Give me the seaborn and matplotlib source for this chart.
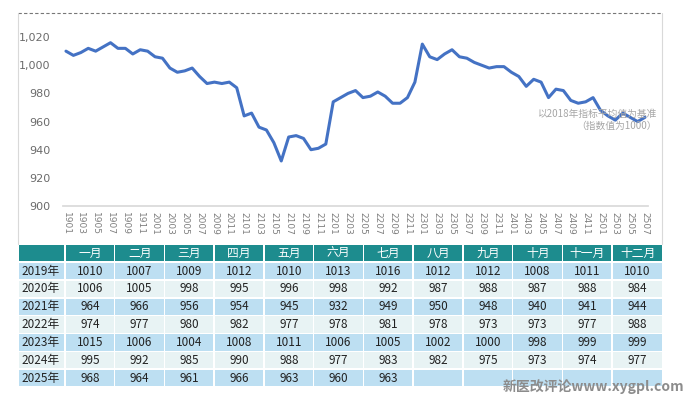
"""
医院指数月度走势（2019-2025），上方折线图 + 下方月度数据表。
保存为 out.png（685x396）。
"""

import matplotlib.pyplot as plt
import numpy as np
import pandas as pd
import seaborn as sns
from matplotlib.lines import Line2D
from matplotlib.patches import Rectangle

YEARS = ["2019年", "2020年", "2021年", "2022年", "2023年", "2024年", "2025年"]
MONTHS = ["一月", "二月", "三月", "四月", "五月", "六月",
          "七月", "八月", "九月", "十月", "十一月", "十二月"]

v2019 = [1010, 1007, 1009, 1012, 1010, 1013, 1016, 1012, 1012, 1008, 1011, 1010]
v2020 = [1006, 1005, 998, 995, 996, 998, 992, 987, 988, 987, 988, 984]
v2021 = [964, 966, 956, 954, 945, 932, 949, 950, 948, 940, 941, 944]
v2022 = [974, 977, 980, 982, 977, 978, 981, 978, 973, 973, 977, 988]
v2023 = [1015, 1006, 1004, 1008, 1011, 1006, 1005, 1002, 1000, 998, 999, 999]
v2024 = [995, 992, 985, 990, 988, 977, 983, 982, 975, 973, 974, 977]
v2025 = [968, 964, 961, 966, 963, 960, 963]

yticks = [900, 920, 940, 960, 980, 1000, 1020]

NOTE = "以2018年指标平均值为基准\n（指数值为1000）"
WATERMARK = "新医改评论www.xygpl.com"

W, H = 685, 396
LINE_COLOR = "#4472c4"
HEAD_COLOR = "#1d8c8e"
ROW_COLORS = ["#bddff2", "#e8f3f4"]

sns.set_theme(style="white")
plt.rcParams["font.family"] = ["Noto Sans CJK SC", "DejaVu Sans"]
plt.rcParams["axes.unicode_minus"] = False


def fx(px):
    return px / W


def fy(py):
    return 1 - py / H


rows = [v2019, v2020, v2021, v2022, v2023, v2024, v2025]
labels, values = [], []
for yr, vals in zip(YEARS, rows):
    for m, v in enumerate(vals):
        labels.append(f"{yr[2:4]}{m + 1:02d}")
        values.append(v)
df = pd.DataFrame({"idx": np.arange(len(values)), "label": labels, "value": values})

fig = plt.figure(figsize=(W / 100, H / 100), dpi=100)

# 外框：顶部虚线 + 左右细线
fig.add_artist(Line2D([fx(18), fx(662)], [fy(13), fy(13)], transform=fig.transFigure,
                      color="#777777", lw=0.8, ls=(0, (3, 2))))
for xp in (18, 662):
    fig.add_artist(Line2D([fx(xp), fx(xp)], [fy(13), fy(244)], transform=fig.transFigure,
                          color="#d9d9d9", lw=0.8))

# 折线图
ax = fig.add_axes([fx(63), fy(206), fx(648) - fx(63), fy(23) - fy(206)])
sns.lineplot(data=df, x="idx", y="value", ax=ax, color=LINE_COLOR, lw=2.2)
ax.set_xlim(-0.4, len(values) - 1 + 0.4)
ax.set_ylim(900, 1030)
ax.set_yticks(yticks)
ax.set_yticklabels([f"{t:,}" for t in yticks], fontsize=8, color="#6b6b6b",
                   family="DejaVu Sans")
ax.set_xticks(df["idx"][::2])
ax.set_xticklabels(df["label"][::2], rotation=270, fontsize=6.5, color="#7f7f7f",
                   family="DejaVu Sans")
ax.tick_params(axis="y", length=0, pad=9)
ax.tick_params(axis="x", length=0, pad=4)
ax.set_xlabel("")
ax.set_ylabel("")
for side in ("top", "right", "left"):
    ax.spines[side].set_visible(False)
ax.spines["bottom"].set_color("#d9d9d9")
ax.patch.set_alpha(0)

fig.text(fx(657), fy(120), NOTE, ha="right", va="center", fontsize=7,
         color="#a6a6a6", linespacing=1.3, multialignment="right")

# 数据表
tax = fig.add_axes([0, 0, 1, 1])
tax.set_xlim(0, W)
tax.set_ylim(H, 0)
tax.axis("off")

col_x = [18] + [65 + 49.75 * i for i in range(13)]
col_x[-1] = 663
top, pitch = 245, 17.85
gap = 1.5

for c in range(13):
    x0, x1 = col_x[c], col_x[c + 1]
    tax.add_patch(Rectangle((x0 + gap / 2, top), x1 - x0 - gap, pitch - gap,
                            color=HEAD_COLOR, lw=0))
    if c > 0:
        tax.text((x0 + x1) / 2, top + (pitch - gap) / 2, MONTHS[c - 1],
                 ha="center", va="center", fontsize=8.5, color="white")

for r, (yr, vals) in enumerate(zip(YEARS, rows)):
    y0 = top + pitch * (r + 1)
    face = ROW_COLORS[r % 2]
    for c in range(13):
        x0, x1 = col_x[c], col_x[c + 1]
        tax.add_patch(Rectangle((x0 + gap / 2, y0), x1 - x0 - gap, pitch - gap,
                                color=face, lw=0))
        if c == 0:
            tax.text(x0 + 3, y0 + (pitch - gap) / 2, yr, ha="left", va="center",
                     fontsize=8.5, color="#222222")
        elif c - 1 < len(vals):
            tax.text((x0 + x1) / 2, y0 + (pitch - gap) / 2, str(vals[c - 1]),
                     ha="center", va="center", fontsize=8.5, color="#222222")

fig.text(fx(503), fy(387), WATERMARK, ha="left", va="center", fontsize=10,
         color="#8c8c8c", fontweight="bold")

fig.savefig("out.png", dpi=100)
